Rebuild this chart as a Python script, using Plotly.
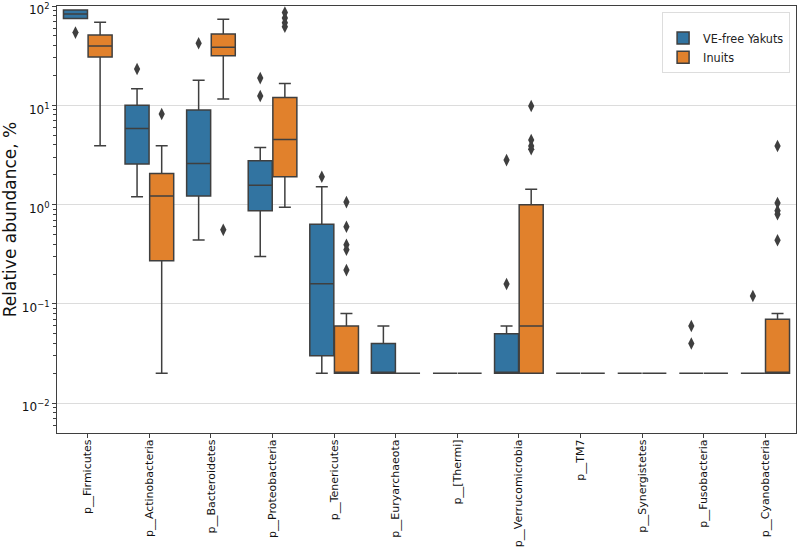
import plotly.graph_objects as go

phyla = ["p__Firmicutes", "p__Actinobacteria", "p__Bacteroidetes", "p__Proteobacteria",
         "p__Tenericutes", "p__Euryarchaeota", "p__[Thermi]", "p__Verrucomicrobia",
         "p__TM7", "p__Synergistetes", "p__Fusobacteria", "p__Cyanobacteria"]

# VE-free Yakuts: box stats (relative abundance, %)
yak_low = [75, 1.2, 0.44, 0.30, 0.02, 0.02, 0.02, 0.02, 0.02, 0.02, 0.02, 0.02]
yak_q1 = [75, 2.56, 1.22, 0.87, 0.03, 0.02, 0.02, 0.02, 0.02, 0.02, 0.02, 0.02]
yak_med = [83, 5.86, 2.6, 1.57, 0.16, 0.02, 0.02, 0.02, 0.02, 0.02, 0.02, 0.02]
yak_q3 = [91, 10.0, 9.0, 2.77, 0.636, 0.04, 0.02, 0.05, 0.02, 0.02, 0.02, 0.02]
yak_high = [91, 14.7, 17.9, 3.77, 1.51, 0.06, 0.02, 0.06, 0.02, 0.02, 0.02, 0.02]
yak_out = {0: [54], 1: [23.2], 2: [42.2], 3: [18.8, 12.4], 4: [1.91],
           7: [2.81, 0.159], 10: [0.06, 0.04], 11: [0.12]}

# Inuits
inu_low = [3.92, 0.02, 11.6, 0.94, 0.02, 0.02, 0.02, 0.02, 0.02, 0.02, 0.02, 0.02]
inu_q1 = [30.7, 0.272, 31.6, 1.91, 0.02, 0.02, 0.02, 0.02, 0.02, 0.02, 0.02, 0.02]
inu_med = [39.6, 1.22, 38.4, 4.54, 0.02, 0.02, 0.02, 0.06, 0.02, 0.02, 0.02, 0.02]
inu_q3 = [51.2, 2.06, 52.4, 12.0, 0.06, 0.02, 0.02, 1.0, 0.02, 0.02, 0.02, 0.07]
inu_high = [68.5, 3.92, 73.6, 16.6, 0.08, 0.02, 0.02, 1.43, 0.02, 0.02, 0.02, 0.08]
inu_out = {1: [8.17], 2: [0.557], 3: [86, 76, 68, 62],
           4: [1.06, 0.598, 0.395, 0.352, 0.219],
           7: [9.84, 4.47, 3.9, 3.62], 11: [3.89, 1.04, 0.87, 0.80, 0.438]}

groups = [
    ("VE-free Yakuts", "#3274A1", -0.2, yak_low, yak_q1, yak_med, yak_q3, yak_high, yak_out),
    ("Inuits", "#E1812C", 0.2, inu_low, inu_q1, inu_med, inu_q3, inu_high, inu_out),
]

edge = "#3f3f3f"
fig = go.Figure()
for name, col, off, lo, q1, med, q3, hi, out in groups:
    xs = [i + off for i in range(len(phyla))]
    fig.add_trace(go.Box(
        name=name, x=xs, q1=q1, median=med, q3=q3, lowerfence=lo, upperfence=hi,
        width=0.39, whiskerwidth=0.5, fillcolor=col,
        line=dict(color=edge, width=1.5), boxpoints=False, hoverinfo="skip"))
    ox, oy = [], []
    for i, vals in out.items():
        ox += [i + off] * len(vals)
        oy += vals
    fig.add_trace(go.Scatter(
        x=ox, y=oy, mode="markers", showlegend=False, hoverinfo="skip",
        marker=dict(symbol="diamond-tall", size=9, color=edge, line=dict(width=0))))

decades = [-2, -1, 0, 1, 2]
minor_vals = [m * 10 ** d for d in range(-3, 2) for m in range(2, 10)]

fig.update_layout(
    width=797, height=554,
    margin=dict(l=57, r=1, t=6, b=121),
    plot_bgcolor="white", paper_bgcolor="white",
    font=dict(family="DejaVu Sans", color="#222", size=12),
    boxmode="overlay",
    showlegend=True,
    legend=dict(x=0.992, y=0.986, xanchor="right", yanchor="top",
                bgcolor="white", bordercolor="#dddddd", borderwidth=1,
                title=dict(text=" ", font=dict(size=8)),
                font=dict(family="DejaVu Sans Condensed, DejaVu Sans", size=12.5),
                tracegroupgap=0, itemwidth=30),
    xaxis=dict(range=[-0.5, 11.5], tickvals=list(range(len(phyla))), ticktext=phyla,
               tickangle=-90, ticks="outside", ticklen=4, tickcolor=edge,
               tickfont=dict(size=11, color="#111"), ticklabelstandoff=-3,
               automargin=False,
               showgrid=False, zeroline=False, showline=True, linecolor=edge,
               linewidth=1.2, mirror=True),
    yaxis=dict(type="log", range=[-2.3, 2.0005], tickmode="array",
               tickvals=[10 ** d for d in decades],
               ticktext=["10<sup>%s</sup>" % (str(d).replace("-", "\u2212")) for d in decades],
               ticks="outside", ticklen=4, tickcolor=edge, ticklabeloverflow="allow",
               ticklabelshift=4,
               tickfont=dict(size=12, color="#111"), automargin=False,
               showgrid=True, gridcolor="#dcdcdc", gridwidth=1,
               zeroline=False, showline=True, linecolor=edge, linewidth=1.2, mirror=True,
               minor=dict(tickmode="array", tickvals=minor_vals, ticks="outside",
                          ticklen=2.5, tickcolor=edge, tickwidth=1, showgrid=False),
               title=dict(text="Relative abundance, %", font=dict(size=17, color="#111"),
                          standoff=4)),
)

# drop the browser's default page margin so the figure sits at the window origin
fig.write_html("out.html", config={"displayModeBar": False},
               post_script="document.body.style.margin='0px';")
